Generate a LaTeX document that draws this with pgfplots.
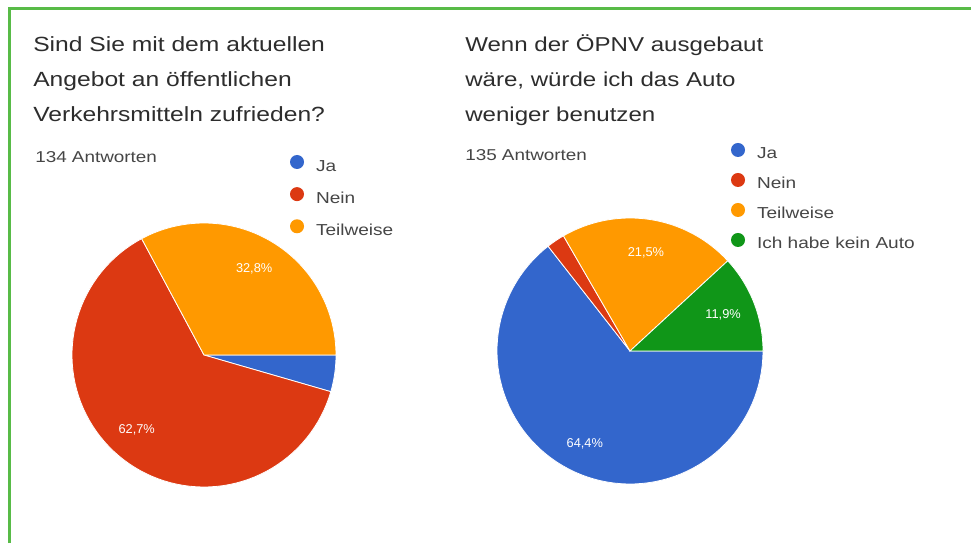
\documentclass[border=0pt]{standalone}
\usepackage{pgfplots}
\pgfplotsset{compat=1.18}
\usepackage{fontspec}
\setmainfont{Liberation Sans}
\newfontfamily\wide{Liberation Sans}[FakeStretch=1.2]
\definecolor{gblue}{RGB}{51,102,204}
\definecolor{gred}{RGB}{220,57,18}
\definecolor{gorange}{RGB}{255,153,0}
\definecolor{ggreen}{RGB}{16,150,24}
\definecolor{framegreen}{RGB}{88,187,71}
\definecolor{ttl}{RGB}{45,45,45}
\definecolor{sub}{RGB}{70,70,70}
\pgfplotsset{
  pie/.style={scale only axis, hide axis, xmin=-1, xmax=1, ymin=-1, ymax=1,
    clip=false, anchor=center, legend cell align=left,
    legend image code/.code={\fill[##1,draw=none] (5.25pt,4pt) circle (5.25pt);},
    legend style={draw=none, fill=none, inner sep=0pt, outer sep=0pt,
      anchor=north west, column sep=9pt,
      font=\wide\fontsize{11.9}{13}\selectfont\color{sub},
      nodes={inner sep=0pt, text height=8pt, text depth=2.5pt}}},
  slice/.style={draw=white, line width=0.6pt, samples=80},
}
\tikzset{pct/.style={text=white, font=\fontsize{9.6}{10}\selectfont}}
\begin{document}
\begin{tikzpicture}
% percentages (answers: 134 and 135)
\def\LJa{4.48}\def\LNein{62.69}\def\LTeil{32.84}
\def\RJa{64.44}\def\RNein{2.22}\def\RTeil{21.48}\def\RKein{11.85}
\pgfmathsetmacro\La{-3.6*\LJa}
\pgfmathsetmacro\Lb{\La-3.6*\LNein}
\pgfmathsetmacro\Ra{-3.6*\RJa}
\pgfmathsetmacro\Rb{\Ra-3.6*\RNein}
\pgfmathsetmacro\Rc{\Rb-3.6*\RTeil}
\path[use as bounding box] (0,0) rectangle (728.25pt,-407.25pt);
\fill[white] (0,0) rectangle (728.25pt,-407.25pt);
\draw[framegreen, line width=2.25pt] (7.125pt,-407.25pt) -- (7.125pt,-6.375pt) -- (728.25pt,-6.375pt);

% titles
\begin{scope}[every node/.style={anchor=base west, inner sep=0pt, text=ttl, font=\wide\fontsize{15.4}{18}\selectfont}]
\node at (24.75pt,-38.25pt) {Sind Sie mit dem aktuellen};
\node at (24.75pt,-64.5pt) {Angebot an öffentlichen};
\node at (24.75pt,-90.75pt) {Verkehrsmitteln zufrieden?};
\end{scope}
\begin{scope}[every node/.style={anchor=base west, inner sep=0pt, text=ttl, font=\wide\fontsize{15.05}{18}\selectfont}]
\node at (348.75pt,-38.25pt) {Wenn der ÖPNV ausgebaut};
\node at (348.75pt,-64.5pt) {wäre, würde ich das Auto};
\node at (348.75pt,-90.75pt) {weniger benutzen};
\end{scope}
\begin{scope}[every node/.style={anchor=base west, inner sep=0pt, text=sub, font=\wide\fontsize{11.8}{13}\selectfont}]
\node at (26.25pt,-121.5pt) {134 Antworten};
\node at (348.75pt,-120pt) {135 Antworten};
\end{scope}

% left pie
\begin{axis}[pie, at={(153pt,-266.25pt)}, width=198pt, height=198pt,
  legend style={at={(0.8258,1.2576)}, row sep=9.6pt}]
\addplot[slice, fill=gblue, domain=\La:0] ({cos(x)},{sin(x)}) -- (0,0) -- cycle;
\addlegendentry{Ja}
\addplot[slice, fill=gred, domain=\Lb:\La] ({cos(x)},{sin(x)}) -- (0,0) -- cycle;
\addlegendentry{Nein}
\addplot[slice, fill=gorange, domain=-360:\Lb] ({cos(x)},{sin(x)}) -- (0,0) -- cycle;
\addlegendentry{Teilweise}
\node[pct] at (0.38,0.65) {32,8\%};
\node[pct] at (-0.51,-0.57) {62,7\%};
\end{axis}

% right pie
\begin{axis}[pie, at={(472.5pt,-263.25pt)}, width=199.5pt, height=199.5pt,
  legend style={at={(0.8797,1.282)}, row sep=8pt}]
\addplot[slice, fill=gblue, domain=\Ra:0] ({cos(x)},{sin(x)}) -- (0,0) -- cycle;
\addlegendentry{Ja}
\addplot[slice, fill=gred, domain=\Rb:\Ra] ({cos(x)},{sin(x)}) -- (0,0) -- cycle;
\addlegendentry{Nein}
\addplot[slice, fill=gorange, domain=\Rc:\Rb] ({cos(x)},{sin(x)}) -- (0,0) -- cycle;
\addlegendentry{Teilweise}
\addplot[slice, fill=ggreen, domain=-360:\Rc] ({cos(x)},{sin(x)}) -- (0,0) -- cycle;
\addlegendentry{Ich habe kein Auto}
\node[pct] at (0.12,0.74) {21,5\%};
\node[pct] at (0.70,0.27) {11,9\%};
\node[pct] at (-0.34,-0.70) {64,4\%};
\end{axis}
\end{tikzpicture}
\end{document}
